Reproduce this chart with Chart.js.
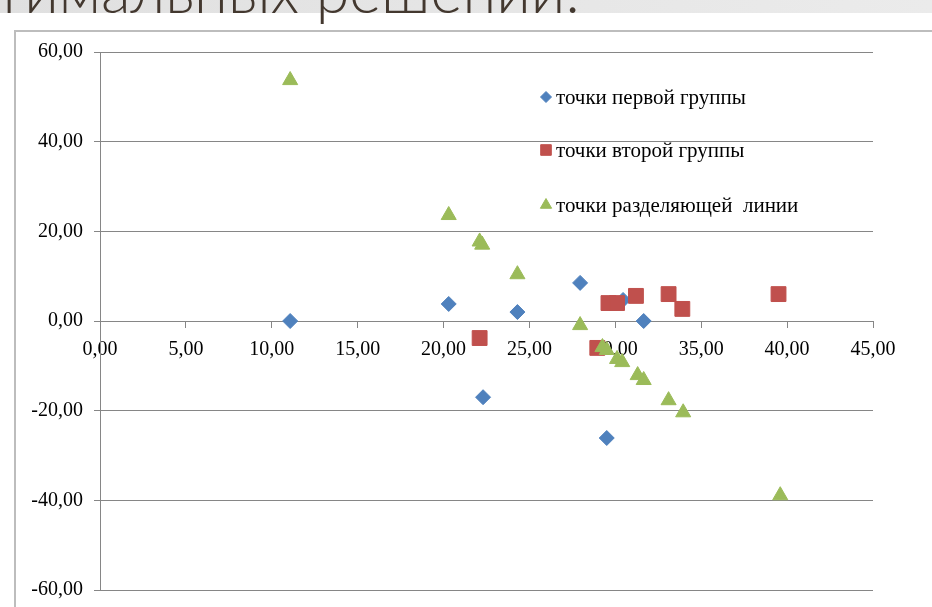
<!DOCTYPE html>
<html>
<head>
<meta charset="utf-8">
<script src="https://cdn.jsdelivr.net/npm/chart.js@4.4.0/dist/chart.umd.min.js"></script>
<style>
  html, body { margin: 0; padding: 0; background: #fff; width: 932px; height: 607px; overflow: hidden; }
  #band { position: absolute; left: 0; top: 0; width: 932px; height: 13px; background: linear-gradient(to right, #e0e0e0, #ebebeb); }
  #title { position: absolute; left: -6px; top: -40px; font-family: Lato, sans-serif; font-weight: 300; font-size: 61px; line-height: 60px; color: #43382f; white-space: nowrap; }
  #frame { position: absolute; left: 14px; top: 30px; width: 940px; height: 600px; border: 2px solid #bdbdbd; }
  #wrap { position: absolute; left: 0; top: 0; width: 932px; height: 607px; }
</style>
</head>
<body>
<div id="band"></div>
<div id="title">тимальных решений.</div>
<div id="frame"></div>
<div id="wrap"><canvas id="myChart" width="932" height="607"></canvas></div>
<script>
// точки первой группы
const group1X = [11.07, 20.3, 22.3, 24.3, 27.95, 29.5, 30.45, 31.65];
const group1Y = [0, 3.8, -17.0, 2.0, 8.5, -26.1, 4.7, 0];
// точки второй группы
const group2X = [22.1, 28.95, 29.6, 30.1, 31.2, 33.1, 33.9, 39.5];
const group2Y = [-3.8, -6.0, 4.0, 4.0, 5.6, 6.0, 2.7, 6.0];
// точки разделяющей линии
const lineX = [11.07, 20.3, 22.1, 22.25, 24.3, 27.95, 29.25, 29.5, 30.1, 30.4, 31.3, 31.65, 33.1, 33.95, 39.6];
const lineY = [53.7, 23.6, 17.7, 17.0, 10.4, -0.95, -5.85, -6.5, -8.5, -9.2, -12.1, -13.2, -17.7, -20.4, -38.9];

const labels = ['точки первой группы', 'точки второй группы', 'точки разделяющей  линии'];
const xTickValues = [0, 5, 10, 15, 20, 25, 30, 35, 40, 45];
const yTickValues = [-60, -40, -20, 0, 20, 40, 60];

const toPoints = (xs, ys) => xs.map((x, i) => ({ x: x, y: ys[i] }));
const fmt = v => Number(v).toFixed(2).replace('.', ',');
const gridColor = '#868686';
const tickFont = { family: 'Liberation Serif', size: 20 };

const legendPlugin = {
  id: 'sideLegend',
  afterDraw(chart) {
    const ctx = chart.ctx;
    const a = chart.chartArea;
    const rows = [45, 98, 153];
    ctx.save();
    chart.data.datasets.forEach((ds, i) => {
      const x = a.left + 446, y = a.top + rows[i];
      ctx.fillStyle = ds.backgroundColor;
      ctx.strokeStyle = ds.borderColor;
      ctx.lineWidth = 1;
      Chart.helpers.drawPoint(ctx, { pointStyle: ds.pointStyle, radius: ds.legendRadius, rotation: 0, borderWidth: 1 }, x, y);
      ctx.fillStyle = '#000';
      ctx.font = '21px "Liberation Serif"';
      ctx.textBaseline = 'middle';
      ctx.textAlign = 'left';
      ctx.fillText(ds.label, x + 10, y + 1);
    });
    ctx.restore();
  }
};

const ctx = document.getElementById('myChart').getContext('2d');
const myChart = new Chart(ctx, {
  type: 'scatter',
  data: {
    datasets: [{
      label: labels[0],
      data: toPoints(group1X, group1Y),
      pointStyle: 'rectRot',
      pointRadius: 7.5,
      legendRadius: 5.5,
      backgroundColor: '#4f81bd',
      borderColor: '#4f81bd',
      borderWidth: 1,
      order: 2
    }, {
      label: labels[1],
      data: toPoints(group2X, group2Y),
      pointStyle: 'rect',
      pointRadius: 10.5,
      legendRadius: 7.5,
      backgroundColor: '#c0504d',
      borderColor: '#c0504d',
      borderWidth: 1,
      order: 1
    }, {
      label: labels[2],
      data: toPoints(lineX, lineY),
      pointStyle: 'triangle',
      pointRadius: 8.7,
      legendRadius: 6.5,
      backgroundColor: '#9bbb59',
      borderColor: '#9bbb59',
      borderWidth: 1,
      order: 0
    }]
  },
  options: {
    responsive: false,
    animation: false,
    devicePixelRatio: 1,
    layout: { padding: { left: 0, right: 59, top: 52, bottom: 17 } },
    plugins: {
      legend: { display: false },
      tooltip: { enabled: false }
    },
    scales: {
      x: {
        type: 'linear',
        min: 0,
        max: 45,
        position: { y: 0 },
        afterBuildTicks: s => { s.ticks = xTickValues.map(v => ({ value: v })); },
        grid: { drawOnChartArea: false, drawTicks: true, tickLength: 6, color: gridColor },
        border: { display: true, color: gridColor, width: 1 },
        ticks: { font: tickFont, color: '#000', padding: 11, maxRotation: 0, autoSkip: false, callback: fmt }
      },
      y: {
        type: 'linear',
        min: -60,
        max: 60,
        afterBuildTicks: s => { s.ticks = yTickValues.map(v => ({ value: v })); },
        afterFit: s => { s.width = 100; s.paddingTop = 0; s.paddingBottom = 0; },
        grid: { color: gridColor, tickLength: 6 },
        border: { display: true, color: gridColor, width: 1 },
        ticks: { font: tickFont, color: '#000', padding: 11, autoSkip: false, callback: fmt }
      }
    }
  },
  plugins: [legendPlugin]
});
</script>
</body>
</html>
